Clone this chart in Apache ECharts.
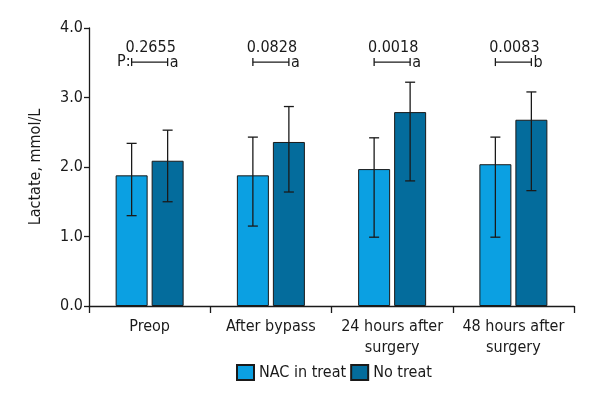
<!DOCTYPE html>
<html>
<head>
<meta charset="utf-8">
<script src="https://cdn.jsdelivr.net/npm/echarts@6/dist/echarts.min.js"></script>
<style>
  html, body { margin: 0; padding: 0; background: #fff; }
  #chart { width: 600px; height: 400px; }
</style>
</head>
<body>
<div id="chart"></div>
<script>
  var categories = ['Preop', 'After bypass', '24 hours after\nsurgery', '48 hours after\nsurgery'];
  var nacMean = [1.88, 1.88, 1.97, 2.04];
  var nacLow = [1.30, 1.15, 0.99, 0.99];
  var nacHigh = [2.34, 2.43, 2.42, 2.43];
  var noMean = [2.09, 2.36, 2.79, 2.68];
  var noLow = [1.50, 1.64, 1.80, 1.66];
  var noHigh = [2.53, 2.87, 3.22, 3.08];
  var pValues = ['0.2655', '0.0828', '0.0018', '0.0083'];
  var pLetters = ['a', 'a', 'a', 'b'];
  var bracketY = 3.51;

  var font = '"Liberation Sans Narrow", "DejaVu Sans Condensed", sans-serif';
  var ink = '#1a1a1a';
  var half = 18; // half distance between the two bar centres

  function errData(low, high) {
    return low.map(function (l, i) { return [i, l, high[i]]; });
  }

  function errSeries(name, low, high, shift) {
    return {
      type: 'custom',
      name: name + ' err',
      z: 5,
      renderItem: function (params, api) {
        var lo = api.coord([api.value(0), api.value(1)]);
        var hi = api.coord([api.value(0), api.value(2)]);
        var x = lo[0] + shift;
        var s = { stroke: ink, lineWidth: 1.3 };
        return {
          type: 'group',
          children: [
            { type: 'line', shape: { x1: x, y1: lo[1], x2: x, y2: hi[1] }, style: s },
            { type: 'line', shape: { x1: x - 5, y1: lo[1], x2: x + 5, y2: lo[1] }, style: s },
            { type: 'line', shape: { x1: x - 5, y1: hi[1], x2: x + 5, y2: hi[1] }, style: s }
          ]
        };
      },
      data: errData(low, high),
      tooltip: { show: false }
    };
  }

  var bracketData = pValues.map(function (p, i) { return [i, bracketY, p, pLetters[i]]; });

  var chart = echarts.init(document.getElementById('chart'));
  chart.setOption({
    animation: false,
    textStyle: { fontFamily: font },
    grid: { left: 89, right: 26, top: 28, bottom: 94 },
    legend: {
      top: 359,
      left: 231,
      icon: 'rect',
      itemWidth: 17,
      itemHeight: 15,
      itemGap: 4,
      textStyle: { fontSize: 16, color: ink, fontFamily: font },
      data: ['NAC in treat', 'No treat']
    },
    xAxis: {
      type: 'category',
      data: categories,
      axisLine: { lineStyle: { color: ink, width: 1.3 } },
      axisTick: { show: true, length: 7, lineStyle: { color: ink, width: 1.3 } },
      axisLabel: { color: ink, fontSize: 16, lineHeight: 21, margin: 10, interval: 0 }
    },
    yAxis: {
      type: 'value',
      min: 0,
      max: 4,
      interval: 1,
      name: 'Lactate, mmol/L',
      nameLocation: 'middle',
      nameGap: 45,
      nameTextStyle: { color: ink, fontSize: 16, fontFamily: font },
      axisLine: { show: true, lineStyle: { color: ink, width: 1.3 } },
      axisTick: { show: true, length: 5, lineStyle: { color: ink, width: 1.3 } },
      axisLabel: { color: ink, fontSize: 16, margin: 6, formatter: function (v) { return v.toFixed(1); } },
      splitLine: { show: false }
    },
    series: [
      {
        name: 'NAC in treat',
        type: 'bar',
        data: nacMean,
        barWidth: 32,
        barGap: '12.5%',
        itemStyle: { color: '#0ba0e2', borderColor: ink, borderWidth: 1 }
      },
      {
        name: 'No treat',
        type: 'bar',
        data: noMean,
        barWidth: 32,
        itemStyle: { color: '#046c9c', borderColor: ink, borderWidth: 1 }
      },
      errSeries('NAC in treat', nacLow, nacHigh, -half),
      errSeries('No treat', noLow, noHigh, half),
      {
        type: 'custom',
        name: 'p',
        z: 6,
        renderItem: function (params, api) {
          var c = api.coord([api.value(0), api.value(1)]);
          var x1 = c[0] - half, x2 = c[0] + half, y = c[1];
          var s = { stroke: ink, lineWidth: 1.3 };
          var kids = [
            { type: 'line', shape: { x1: x1, y1: y, x2: x2, y2: y }, style: s },
            { type: 'line', shape: { x1: x1, y1: y - 4, x2: x1, y2: y + 4 }, style: s },
            { type: 'line', shape: { x1: x2, y1: y - 4, x2: x2, y2: y + 4 }, style: s },
            { type: 'text', x: c[0] + 1, y: y - 6, style: { text: api.value(2), fill: ink, fontSize: 16, fontFamily: font, align: 'center', verticalAlign: 'bottom' } },
            { type: 'text', x: x2 + 2, y: y + 9, style: { text: api.value(3), fill: ink, fontSize: 16, fontFamily: font, align: 'left', verticalAlign: 'bottom' } }
          ];
          if (params.dataIndex === 0) {
            kids.push({ type: 'text', x: x1 - 1, y: y + 8, style: { text: 'P:', fill: ink, fontSize: 16, fontFamily: font, align: 'right', verticalAlign: 'bottom' } });
          }
          return { type: 'group', children: kids };
        },
        data: bracketData
      }
    ]
  });
</script>
</body>
</html>
